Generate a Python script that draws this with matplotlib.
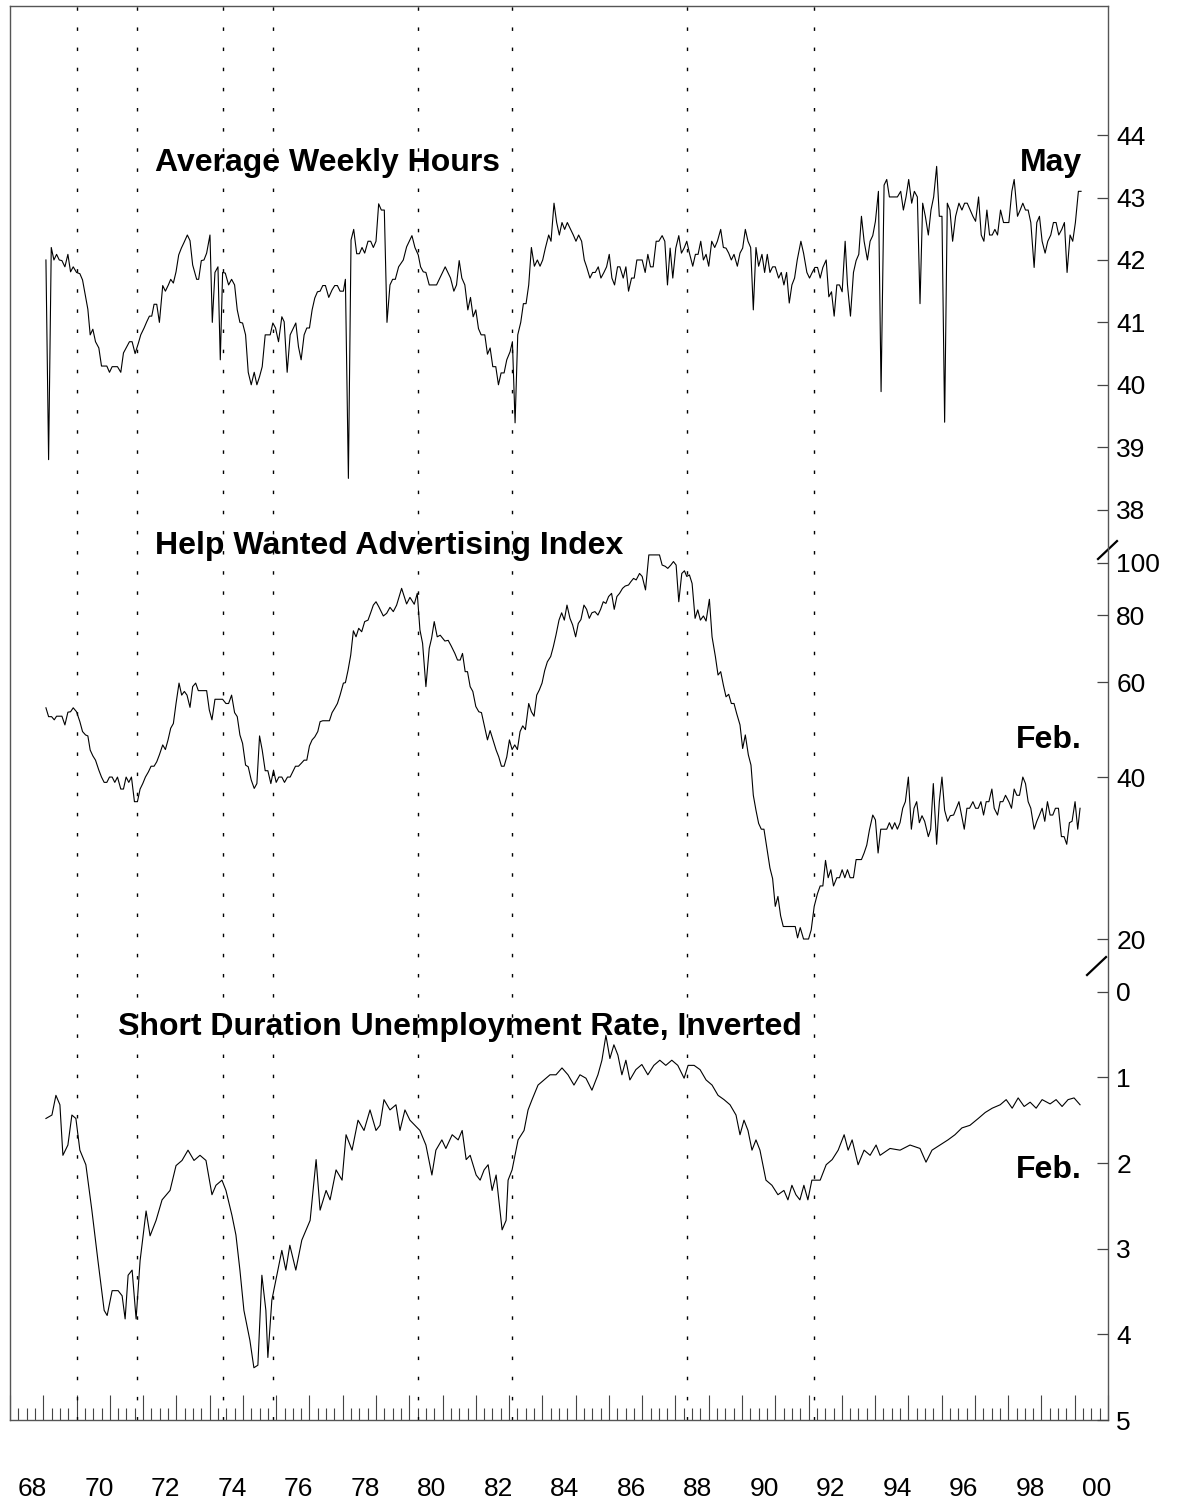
import matplotlib
matplotlib.use("Agg")
import matplotlib.pyplot as plt
import matplotlib.transforms as mtransforms
from matplotlib.ticker import FixedLocator, MultipleLocator, NullLocator

plt.rcParams['font.family'] = ['Liberation Sans', 'DejaVu Sans']

# ---- data ----
hours_years = [
    1969.08, 1969.16, 1969.24, 1969.32, 1969.40, 1969.48, 1969.56, 1969.65, 1969.74, 1969.82,
    1969.90, 1970.00, 1970.10, 1970.18, 1970.26, 1970.34, 1970.41, 1970.49, 1970.57, 1970.67,
    1970.75, 1970.91, 1970.99, 1971.07, 1971.23, 1971.33, 1971.41, 1971.51, 1971.59, 1971.67,
    1971.76, 1971.86, 1971.93, 1972.03, 1972.11, 1972.19, 1972.26, 1972.33, 1972.41, 1972.49,
    1972.59, 1972.67, 1972.76, 1972.83, 1972.91, 1972.99, 1973.07, 1973.15, 1973.23, 1973.33,
    1973.41, 1973.49, 1973.61, 1973.67, 1973.75, 1973.83, 1973.91, 1974.01, 1974.08, 1974.16,
    1974.25, 1974.32, 1974.39, 1974.47, 1974.57, 1974.66, 1974.75, 1974.83, 1974.91, 1974.99,
    1975.08, 1975.16, 1975.25, 1975.34, 1975.42, 1975.50, 1975.58, 1975.67, 1975.82, 1975.90,
    1975.98, 1976.07, 1976.17, 1976.24, 1976.33, 1976.42, 1976.59, 1976.67, 1976.75, 1976.84,
    1976.92, 1977.00, 1977.08, 1977.16, 1977.24, 1977.32, 1977.40, 1977.48, 1977.58, 1977.68,
    1977.76, 1977.84, 1977.92, 1978.02, 1978.08, 1978.17, 1978.25, 1978.33, 1978.42, 1978.50,
    1978.58, 1978.66, 1978.76, 1978.84, 1978.92, 1979.00, 1979.08, 1979.16, 1979.25, 1979.33,
    1979.42, 1979.50, 1979.58, 1979.68,
    1979.82, 1979.92, 1980.08, 1980.17, 1980.27, 1980.34, 1980.42, 1980.50, 1980.60, 1980.82,
    1981.08, 1981.24, 1981.34, 1981.42, 1981.50, 1981.58, 1981.67, 1981.76, 1981.84, 1981.92,
    1982.00, 1982.08, 1982.16, 1982.27, 1982.35, 1982.43, 1982.51, 1982.60, 1982.68, 1982.76,
    1982.85, 1982.93, 1983.03, 1983.10, 1983.18, 1983.26, 1983.35, 1983.43, 1983.51, 1983.59,
    1983.67, 1983.76, 1983.85, 1983.93, 1984.01, 1984.09, 1984.19, 1984.26, 1984.35, 1984.43,
    1984.51, 1984.59, 1984.67, 1984.75, 1984.85, 1984.93, 1985.01, 1985.09, 1985.18, 1985.26,
    1985.33, 1985.43, 1985.51, 1985.59, 1985.68, 1985.76, 1985.85, 1985.93, 1986.01, 1986.09,
    1986.17, 1986.26, 1986.33, 1986.43, 1986.51, 1986.59, 1986.68, 1986.76, 1986.84, 1987.00,
    1987.09, 1987.17, 1987.25, 1987.33, 1987.42, 1987.50, 1987.60, 1987.68, 1987.76, 1987.84,
    1987.92, 1988.01, 1988.10, 1988.18, 1988.26, 1988.34, 1988.42, 1988.52, 1988.60, 1988.68,
    1988.76, 1988.84, 1988.92, 1989.00, 1989.09, 1989.18, 1989.26, 1989.36, 1989.44, 1989.52,
    1989.60, 1989.68, 1989.76, 1989.86, 1989.94, 1990.02, 1990.10, 1990.18, 1990.26, 1990.34,
    1990.42, 1990.50, 1990.60, 1990.68, 1990.76, 1990.84, 1990.92, 1991.00, 1991.10, 1991.18,
    1991.26, 1991.34, 1991.42, 1991.50, 1991.58,
    1991.66, 1991.77, 1991.85, 1991.95, 1992.03, 1992.11, 1992.19, 1992.27, 1992.35, 1992.43,
    1992.53, 1992.61, 1992.69, 1992.77, 1992.85, 1992.93, 1993.01, 1993.10, 1993.17, 1993.26,
    1993.35, 1993.43, 1993.51, 1993.59, 1993.67, 1993.77, 1993.85, 1993.93, 1994.01, 1994.10,
    1994.18, 1994.27, 1994.35, 1994.43, 1994.67, 1994.77, 1994.85, 1994.93, 1995.01, 1995.10,
    1995.18, 1995.27, 1995.35, 1995.43, 1995.51, 1995.60, 1995.68, 1995.76, 1995.85, 1995.93,
    1996.01, 1996.09, 1996.17, 1996.25, 1996.33, 1996.42, 1996.52, 1996.61, 1996.69, 1996.77,
    1996.86, 1996.94, 1997.02, 1997.11, 1997.19, 1997.27, 1997.36, 1997.44, 1997.52, 1997.60,
    1997.68, 1997.77, 1997.86, 1997.94, 1998.02, 1998.11, 1998.18, 1998.28, 1998.36, 1998.44,
    1998.52, 1998.60, 1998.68, 1998.78, 1998.86, 1998.94, 1999.02, 1999.11, 1999.19, 1999.28,
    1999.36, 1999.44, 1999.52, 1999.61, 1999.69, 1999.77, 1999.86, 1999.94, 2000.02, 2000.11,
    2000.19,
]
hours = [
    42.00, 38.80, 42.20, 42.00, 42.09, 42.00, 41.99, 41.89, 42.09, 41.81,
    41.89, 41.80, 41.78, 41.68, 41.44, 41.21, 40.80, 40.89, 40.69, 40.59,
    40.30, 40.30, 40.20, 40.29, 40.29, 40.20, 40.51, 40.61, 40.69, 40.69,
    40.50, 40.67, 40.80, 40.91, 41.01, 41.10, 41.10, 41.29, 41.29, 41.00,
    41.59, 41.50, 41.60, 41.69, 41.63, 41.81, 42.08, 42.19, 42.28, 42.40,
    42.31, 41.92, 41.69, 41.69, 41.99, 42.00, 42.11, 42.40, 41.00, 41.80,
    41.89, 40.40, 41.80, 41.79, 41.60, 41.69, 41.60, 41.20, 41.00, 40.99,
    40.80, 40.20, 40.00, 40.20, 40.00, 40.13, 40.29, 40.80, 40.80, 40.99,
    40.91, 40.69, 41.09, 41.01, 40.20, 40.80, 40.99, 40.61, 40.40, 40.80,
    40.91, 40.91, 41.20, 41.39, 41.49, 41.50, 41.59, 41.59, 41.40, 41.52,
    41.59, 41.59, 41.50, 41.50, 41.69, 38.50, 42.32, 42.49, 42.10, 42.10,
    42.20, 42.11, 42.30, 42.30, 42.20, 42.30, 42.90, 42.80, 42.80, 41.00,
    41.60, 41.69, 41.69, 41.89,
    42.00, 42.21, 42.39, 42.20, 42.08, 41.89, 41.81, 41.80, 41.60, 41.60,
    41.89, 41.71, 41.50, 41.60, 41.99, 41.71, 41.60, 41.20, 41.40, 41.09,
    41.20, 40.90, 40.80, 40.80, 40.49, 40.59, 40.29, 40.29, 40.00, 40.19,
    40.19, 40.40, 40.53, 40.69, 39.39, 40.80, 41.00, 41.30, 41.30, 41.60,
    42.20, 41.90, 42.00, 41.90, 42.00, 42.19, 42.40, 42.30, 42.91, 42.60,
    42.40, 42.60, 42.49, 42.60, 42.49, 42.40, 42.30, 42.40, 42.30, 42.00,
    41.89, 41.71, 41.80, 41.80, 41.89, 41.71, 41.80, 41.89, 42.09, 41.71,
    41.60, 41.89, 41.89, 41.71, 41.89, 41.50, 41.71, 41.71, 42.00, 42.00,
    41.80, 42.09, 41.89, 41.89, 42.30, 42.30, 42.39, 42.30, 41.60, 42.19,
    41.71, 42.19, 42.39, 42.11, 42.19, 42.30, 42.11, 41.90, 42.09, 42.09,
    42.30, 42.00, 42.09, 41.90, 42.30, 42.20, 42.30, 42.49, 42.20, 42.19,
    42.11, 42.00, 42.09, 41.90, 42.11, 42.19, 42.49, 42.30, 42.20, 41.20,
    42.20, 41.90, 42.09, 41.80, 42.09, 41.80, 41.89, 41.89, 41.71, 41.80,
    41.60, 41.80, 41.31, 41.60, 41.71,
    42.00, 42.30, 42.11, 41.80, 41.71, 41.80, 41.88, 41.88, 41.71, 41.88,
    42.00, 41.41, 41.49, 41.10, 41.60, 41.60, 41.49, 42.30, 41.60, 41.10,
    41.80, 41.99, 42.09, 42.70, 42.30, 42.00, 42.30, 42.39, 42.62, 43.10,
    39.89, 43.20, 43.29, 43.01, 43.01, 43.10, 42.80, 43.01, 43.29, 42.91,
    43.10, 43.01, 41.30, 42.91, 42.70, 42.40, 42.80, 43.01, 43.50, 42.70,
    42.70, 39.40, 42.91, 42.80, 42.30, 42.70, 42.91, 42.80, 42.91, 42.91,
    42.80, 42.70, 42.62, 43.01, 42.40, 42.30, 42.80, 42.40, 42.40, 42.49,
    42.40, 42.80, 42.60, 42.60, 42.60, 43.10, 43.29, 42.70, 42.80, 42.91,
    42.80, 42.80, 42.60, 41.88, 42.60, 42.70, 42.30, 42.11, 42.30, 42.40,
    42.60, 42.60, 42.40, 42.49, 42.60, 41.80, 42.40, 42.30, 42.60, 43.10,
    43.10,
]

help_years = [
    1969.08, 1969.16, 1969.25, 1969.33, 1969.40, 1969.56, 1969.65, 1969.74, 1969.82, 1969.90,
    1970.00, 1970.10, 1970.18, 1970.27, 1970.34, 1970.41, 1970.49, 1970.57, 1970.67, 1970.75,
    1970.83, 1970.91, 1970.99, 1971.07, 1971.15, 1971.23, 1971.33, 1971.41, 1971.49, 1971.57,
    1971.65, 1971.74, 1971.83, 1971.91, 1971.99, 1972.07, 1972.16, 1972.24, 1972.33, 1972.41,
    1972.49, 1972.59, 1972.67, 1972.75, 1972.83, 1972.91, 1972.99, 1973.08, 1973.16, 1973.24,
    1973.32, 1973.41, 1973.49, 1973.58, 1973.66, 1973.91, 1973.99, 1974.07, 1974.16, 1974.39,
    1974.49, 1974.57, 1974.66, 1974.75, 1974.83, 1974.91, 1974.99, 1975.08, 1975.16, 1975.25,
    1975.34, 1975.42, 1975.50, 1975.58, 1975.67, 1975.75, 1975.84, 1975.92, 1976.00, 1976.08,
    1976.17, 1976.25, 1976.34, 1976.42, 1976.58, 1976.67, 1976.75, 1976.84, 1976.92, 1977.00,
    1977.08, 1977.16, 1977.25, 1977.32, 1977.40, 1977.60, 1977.68, 1977.76, 1977.84, 1977.92,
    1978.02, 1978.08, 1978.16, 1978.24, 1978.32, 1978.40, 1978.48, 1978.57, 1978.66, 1978.76,
    1978.84, 1978.92, 1979.00, 1979.08,
    1979.22, 1979.32, 1979.42, 1979.52, 1979.62, 1979.77, 1979.92, 1980.02, 1980.15, 1980.24,
    1980.32, 1980.40, 1980.50, 1980.60, 1980.67, 1980.75, 1980.84, 1980.93, 1981.07, 1981.17,
    1981.26, 1981.37, 1981.45, 1981.53, 1981.60, 1981.68, 1981.75, 1981.83, 1981.91, 1982.00,
    1982.09, 1982.17, 1982.25, 1982.35, 1982.43, 1982.53, 1982.61, 1982.69, 1982.77, 1982.85,
    1982.93, 1983.01, 1983.09, 1983.17, 1983.25, 1983.33, 1983.41, 1983.49, 1983.59, 1983.67,
    1983.75, 1983.83, 1983.91, 1983.99, 1984.07, 1984.15, 1984.25, 1984.33, 1984.41, 1984.50,
    1984.58, 1984.66, 1984.74, 1984.83, 1984.91, 1985.00, 1985.08, 1985.16, 1985.25, 1985.33,
    1985.41, 1985.49, 1985.58, 1985.67, 1985.75, 1985.83, 1985.91, 1985.99, 1986.08, 1986.16,
    1986.24, 1986.32, 1986.41, 1986.49, 1986.59, 1986.66, 1986.74, 1986.82, 1986.92, 1987.00,
    1987.10, 1987.20, 1987.28, 1987.44, 1987.52, 1987.60, 1987.69, 1987.77, 1987.86, 1987.94,
    1988.02, 1988.10, 1988.19, 1988.27, 1988.34, 1988.42, 1988.50, 1988.59, 1988.67, 1988.75,
    1988.84, 1988.92, 1989.02, 1989.10, 1989.20, 1989.28, 1989.36, 1989.44, 1989.52, 1989.60,
    1989.68, 1989.76, 1989.84, 1989.94,
    1990.02, 1990.10, 1990.19, 1990.27, 1990.34, 1990.42, 1990.50, 1990.58, 1990.66, 1990.74,
    1990.84, 1990.92, 1991.00, 1991.08, 1991.16, 1991.24, 1991.60, 1991.67, 1991.75, 1991.85,
    1992.00, 1992.08, 1992.17, 1992.27, 1992.35, 1992.43, 1992.51, 1992.59, 1992.67, 1992.75,
    1992.85, 1992.93, 1993.01, 1993.09, 1993.17, 1993.25, 1993.35, 1993.43, 1993.59, 1993.67,
    1993.75, 1993.83, 1993.93, 1994.01, 1994.09, 1994.17, 1994.35, 1994.43, 1994.51, 1994.59,
    1994.67, 1994.75, 1994.83, 1994.91, 1995.00, 1995.09, 1995.17, 1995.25, 1995.33, 1995.41,
    1995.49, 1995.60, 1995.67, 1995.75, 1995.85, 1995.93, 1996.01, 1996.09, 1996.18, 1996.26,
    1996.36, 1996.44, 1996.52, 1996.60, 1996.68, 1996.76, 1996.84, 1996.94, 1997.02, 1997.10,
    1997.18, 1997.26, 1997.34, 1997.42, 1997.51, 1997.58, 1997.68, 1997.76, 1997.84, 1997.92,
    1998.02, 1998.10, 1998.18, 1998.26, 1998.34, 1998.44, 1998.52, 1998.60, 1998.68, 1998.78,
    1998.86, 1998.94, 1999.02, 1999.10, 1999.18, 1999.26, 1999.34, 1999.42, 1999.51, 1999.60,
    1999.68, 1999.76, 1999.84, 1999.92, 2000.01, 2000.09, 2000.16,
]
help_wanted = [
    53.8, 51.8, 51.8, 51.1, 51.9, 51.9, 50.0, 52.8, 52.9, 53.8,
    52.9, 50.7, 48.6, 47.9, 47.7, 44.9, 43.8, 43.0, 41.2, 40.0,
    39.1, 39.1, 40.0, 40.0, 39.1, 40.0, 38.0, 38.0, 40.0, 39.1,
    40.0, 36.0, 36.0, 38.0, 38.9, 40.0, 40.9, 41.9, 41.9, 42.7,
    44.0, 45.9, 45.0, 46.9, 49.3, 50.3, 54.8, 59.8, 56.8, 57.7,
    56.8, 53.9, 58.9, 59.8, 57.9, 57.9, 53.3, 51.1, 55.8, 55.8,
    54.8, 54.8, 56.8, 52.7, 51.8, 47.9, 46.2, 42.1, 41.8, 39.5,
    38.1, 38.9, 47.7, 44.9, 41.1, 41.1, 38.9, 41.2, 39.1, 40.0,
    40.0, 39.1, 40.0, 40.0, 41.9, 41.9, 42.4, 43.0, 43.0, 45.7,
    46.9, 47.5, 48.6, 50.7, 50.9, 50.9, 52.7, 53.7, 54.8, 56.8,
    59.8, 59.9, 63.2, 67.4, 74.8, 72.9, 75.6, 74.5, 77.8, 78.3,
    80.8, 83.5, 84.7, 83.0,
    79.7, 80.6, 82.7, 81.2, 83.5, 89.7, 83.9, 86.3, 83.8, 87.8,
    75.1, 70.9, 58.9, 69.4, 72.4, 77.8, 72.9, 73.4, 71.6, 71.8,
    70.1, 67.9, 66.0, 66.0, 67.9, 62.8, 62.8, 58.9, 57.7, 54.1,
    52.9, 52.7, 50.0, 46.9, 48.8, 46.6, 44.9, 43.6, 41.9, 41.9,
    43.6, 46.9, 45.0, 45.9, 45.0, 48.6, 49.8, 49.0, 54.8, 52.9,
    51.9, 56.8, 58.1, 59.8, 63.1, 65.5, 67.0, 69.9, 73.5, 78.3,
    80.8, 78.3, 83.5, 78.9, 76.7, 72.9, 77.2, 78.5, 83.5, 82.0,
    78.9, 80.8, 81.2, 80.0, 82.0, 84.7, 84.1, 86.6, 87.8, 82.0,
    86.6, 87.8, 89.7, 90.6, 91.0, 92.3, 93.6, 93.0, 95.6, 94.4,
    89.1, 103.5, 103.5, 103.5, 103.5, 99.1, 98.6, 97.7, 99.1, 100.6,
    99.1, 84.7, 95.6, 96.7, 94.4, 95.0, 91.6, 78.9, 81.8, 78.3,
    79.7, 78.0, 85.6, 72.9, 67.0, 61.9, 62.8, 59.3, 56.4, 57.0,
    54.8, 54.8, 52.5, 50.0,
    45.2, 47.9, 44.0, 42.1, 37.0, 34.7, 32.8, 32.0, 32.0, 29.7,
    27.1, 25.9, 23.0, 24.0, 22.1, 21.1, 21.1, 20.1, 21.0, 20.0,
    20.0, 20.8, 23.0, 24.3, 25.1, 25.1, 28.0, 26.0, 26.9, 25.1,
    26.0, 26.0, 26.9, 26.0, 26.9, 26.0, 26.0, 28.1, 28.1, 28.9,
    29.9, 31.9, 34.0, 33.3, 28.9, 32.0, 32.0, 32.9, 32.0, 32.9,
    32.0, 32.9, 35.0, 36.0, 40.0, 32.0, 35.0, 36.0, 32.9, 33.9,
    33.1, 31.0, 32.0, 38.9, 30.0, 36.0, 40.0, 34.7, 33.1, 33.9,
    34.0, 35.0, 36.0, 33.9, 32.0, 35.0, 35.0, 36.0, 35.0, 35.0,
    36.0, 34.0, 36.0, 36.0, 38.0, 35.0, 34.0, 36.0, 36.0, 37.0,
    36.0, 35.0, 38.0, 37.0, 37.0, 40.0, 38.9, 36.0, 35.0, 32.0,
    33.1, 34.0, 35.0, 33.1, 36.0, 34.0, 34.0, 35.0, 35.0, 31.0,
    31.0, 30.0, 32.9, 33.1, 36.0, 32.0, 35.0,
]

unemp_years = [
    1969.08, 1969.26, 1969.38, 1969.50, 1969.59, 1969.74, 1969.86, 1969.98, 1970.10, 1970.28,
    1970.46, 1970.64, 1970.83, 1970.92, 1971.07, 1971.25, 1971.37, 1971.46, 1971.55, 1971.67,
    1971.79, 1971.91, 1972.09, 1972.21, 1972.39, 1972.57, 1972.81, 1972.99, 1973.17, 1973.35,
    1973.53, 1973.71, 1973.89, 1974.07, 1974.19, 1974.37, 1974.49, 1974.67, 1974.79, 1974.91,
    1975.03, 1975.21, 1975.33, 1975.45, 1975.57, 1975.69, 1975.75, 1975.87, 1975.99, 1976.17,
    1976.29, 1976.41, 1976.59, 1976.77, 1977.02, 1977.20, 1977.32, 1977.50, 1977.62, 1977.80,
    1977.98, 1978.10, 1978.28, 1978.46, 1978.64, 1978.82, 1979.00, 1979.12, 1979.24, 1979.42,
    1979.60, 1979.72, 1979.87, 1980.02, 1980.32, 1980.50, 1980.68, 1980.80, 1980.98, 1981.10,
    1981.29, 1981.47, 1981.59, 1981.71, 1981.83, 1982.01, 1982.13, 1982.25, 1982.37, 1982.49,
    1982.61, 1982.79, 1982.91, 1982.97, 1983.09, 1983.27, 1983.45, 1983.57, 1983.69, 1983.87,
    1984.05, 1984.23, 1984.41, 1984.59, 1984.77, 1984.95, 1985.13, 1985.31, 1985.49, 1985.67,
    1985.79, 1985.91, 1986.03, 1986.15, 1986.27, 1986.39, 1986.51, 1986.63, 1986.81, 1986.99,
    1987.17, 1987.35, 1987.53, 1987.71, 1987.89, 1988.07, 1988.26, 1988.38, 1988.56, 1988.74,
    1988.92, 1989.10, 1989.28, 1989.46, 1989.64, 1989.82, 1989.94, 1990.06, 1990.18, 1990.30,
    1990.42, 1990.54, 1990.72, 1990.90, 1991.08, 1991.26, 1991.38, 1991.50, 1991.62, 1991.74,
    1991.86, 1991.98, 1992.10, 1992.22,
    1992.35, 1992.53, 1992.71, 1992.89, 1993.07, 1993.19, 1993.31, 1993.49, 1993.67, 1993.85,
    1994.03, 1994.15, 1994.45, 1994.75, 1995.05, 1995.35, 1995.53, 1995.71, 1995.95, 1996.19,
    1996.40, 1996.61, 1996.85, 1997.10, 1997.31, 1997.52, 1997.76, 1997.94, 1998.12, 1998.30,
    1998.48, 1998.66, 1998.84, 1999.02, 1999.26, 1999.44, 1999.62, 1999.80, 1999.98, 2000.16,
]
unemp = [
    1.48, 1.44, 1.21, 1.32, 1.91, 1.79, 1.44, 1.48, 1.85, 2.02,
    2.55, 3.13, 3.72, 3.78, 3.49, 3.49, 3.55, 3.82, 3.31, 3.25,
    3.82, 3.14, 2.56, 2.85, 2.67, 2.43, 2.32, 2.03, 1.97, 1.85,
    1.97, 1.91, 1.97, 2.37, 2.26, 2.20, 2.32, 2.61, 2.84, 3.25,
    3.72, 4.07, 4.39, 4.36, 3.31, 3.72, 4.27, 3.60, 3.37, 3.02,
    3.25, 2.96, 3.25, 2.90, 2.67, 1.96, 2.55, 2.32, 2.43, 2.08,
    2.20, 1.67, 1.85, 1.50, 1.62, 1.38, 1.62, 1.56, 1.26, 1.38,
    1.32, 1.62, 1.38, 1.50, 1.62, 1.79, 2.14, 1.85, 1.73, 1.83,
    1.67, 1.73, 1.62, 1.96, 1.91, 2.14, 2.20, 2.08, 2.02, 2.32,
    2.14, 2.78, 2.67, 2.20, 2.08, 1.73, 1.62, 1.38, 1.26, 1.09,
    1.03, 0.97, 0.97, 0.89, 0.97, 1.09, 0.97, 1.01, 1.15, 0.97,
    0.80, 0.51, 0.78, 0.62, 0.74, 0.97, 0.80, 1.03, 0.91, 0.85,
    0.97, 0.86, 0.80, 0.86, 0.80, 0.86, 1.01, 0.86, 0.86, 0.91,
    1.03, 1.09, 1.21, 1.26, 1.32, 1.44, 1.67, 1.50, 1.62, 1.85,
    1.73, 1.85, 2.20, 2.26, 2.37, 2.32, 2.43, 2.26, 2.37, 2.43,
    2.26, 2.43, 2.20, 2.20,
    2.20, 2.02, 1.96, 1.85, 1.67, 1.85, 1.73, 2.02, 1.85, 1.91,
    1.79, 1.91, 1.83, 1.85, 1.79, 1.83, 1.99, 1.85, 1.79, 1.73,
    1.67, 1.59, 1.56, 1.48, 1.41, 1.36, 1.32, 1.26, 1.36, 1.24,
    1.34, 1.29, 1.36, 1.26, 1.31, 1.26, 1.34, 1.26, 1.24, 1.32,
]

# vertical dotted reference lines
marker_years = [1970.00, 1971.81, 1974.41, 1975.91, 1980.25, 1983.10, 1988.34, 1992.17]

label_years = list(range(1968, 2001, 2))
year_labels = ["68", "70", "72", "74", "76", "78", "80", "82", "84",
               "86", "88", "90", "92", "94", "96", "98", "00"]

hours_ticks = [38, 39, 40, 41, 42, 43, 44]
help_ticks = [20, 40, 60, 80, 100]
unemp_ticks = [0, 1, 2, 3, 4, 5]

# ---- figure ----
W, H = 1177, 1505
fig = plt.figure(figsize=(W / 100, H / 100), dpi=100)
fig.patch.set_facecolor("white")
ax = fig.add_axes([10 / W, 85 / H, 1098 / W, 1414 / H])
ax_help = ax.twinx()
ax_unemp = ax.twinx()

for a in (ax_help, ax_unemp):
    for s in a.spines.values():
        s.set_visible(False)
for s in ax.spines.values():
    s.set_color("#555555")
    s.set_linewidth(1.0)

ax.set_xlim(1968, 2001)
ax.xaxis.set_major_locator(MultipleLocator(1))
ax.xaxis.set_minor_locator(MultipleLocator(0.25))
ax.tick_params(axis="x", which="major", direction="in", length=18, width=0.8,
               color="#444444", labelbottom=False, top=False)
ax.tick_params(axis="x", which="minor", direction="in", length=8.5, width=0.8,
               color="#444444", top=False)

lw = 0.8
ax.plot(hours_years, hours, color="black", lw=lw)
ax_help.plot(help_years, help_wanted, color="black", lw=lw)
ax_unemp.plot(unemp_years, unemp, color="black", lw=lw)

for yr in marker_years:
    ax.axvline(yr, color="black", lw=1.0, linestyle=(0, (2.5, 12)))

# y scales, each series gets its own band of the frame
ax.set_ylim(23.41, 46.07)
ax_help.set_yscale("log")
ax_help.set_ylim(2.553, 1084.4)
ax_unemp.set_ylim(5.0, -11.507)

tick_kw = dict(direction="in", length=8, width=0.9, color="#444444",
               labelsize=19, pad=6, left=False, right=True,
               labelleft=False, labelright=True)
ax.yaxis.tick_right()
ax.yaxis.set_major_locator(FixedLocator(hours_ticks))
ax.tick_params(axis="y", **tick_kw)
ax_help.yaxis.set_major_locator(FixedLocator(help_ticks))
ax_help.yaxis.set_minor_locator(NullLocator())
ax_help.set_yticklabels([str(t) for t in help_ticks])
ax_help.tick_params(axis="y", **tick_kw)
ax_unemp.yaxis.set_major_locator(FixedLocator(unemp_ticks))
ax_unemp.tick_params(axis="y", **tick_kw)

# axis break marks
ax.plot([0.9909, 1.0082], [0.6089, 0.6216], transform=ax.transAxes,
        color="black", lw=1.6, clip_on=False)
ax.plot([0.9809, 0.9982], [0.3147, 0.3274], transform=ax.transAxes,
        color="black", lw=1.6, clip_on=False)

# year labels below the axis
trans = mtransforms.blended_transform_factory(ax.transData, ax.transAxes)
for yr, lab in zip(label_years, year_labels):
    ax.text(yr + 0.67, -0.0488, lab, transform=trans, ha="center", va="center",
            fontsize=19)

# series titles
title_kw = dict(fontsize=23, fontweight="bold", va="center")
ax.text(1972.36, 43.56, "Average Weekly Hours", ha="left", **title_kw)
ax.text(2000.22, 43.56, "May", ha="right", **title_kw)
ax_help.text(1972.36, 107.5, "Help Wanted Advertising Index", ha="left", **title_kw)
ax_help.text(2000.22, 46.9, "Feb.", ha="right", **title_kw)
ax_unemp.text(1971.25, 0.41, "Short Duration Unemployment Rate, Inverted",
              ha="left", **title_kw)
ax_unemp.text(2000.22, 2.08, "Feb.", ha="right", **title_kw)

fig.savefig("out.png", dpi=100, facecolor="white")
